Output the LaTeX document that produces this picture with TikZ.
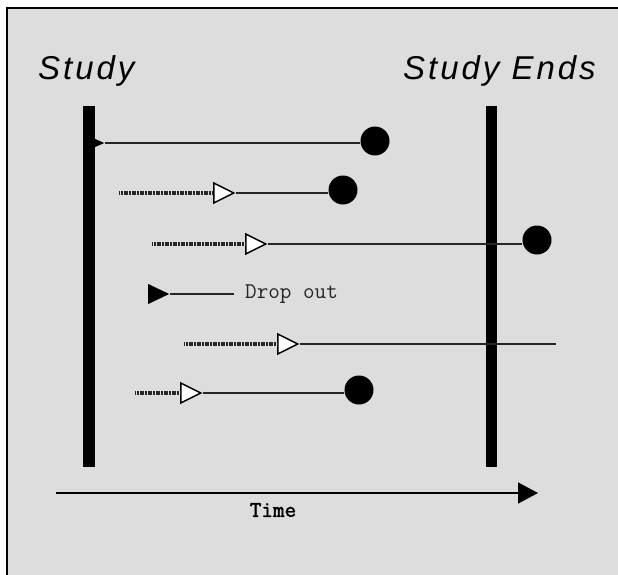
\documentclass[tikz,border=0pt]{standalone}
\usepackage{fontspec}
\newfontfamily\headfont[LetterSpace=9]{Liberation Sans}
\newfontfamily\timefont[FakeBold=2]{Latin Modern Mono}
\usetikzlibrary{arrows.meta,shapes.geometric}
\definecolor{panel}{HTML}{DDDDDD}
\begin{document}
\begin{tikzpicture}[x=1pt,y=-1pt,
		bar/.style={line width=11.5pt},
		wait/.style={line width=3.5pt,dash pattern=on 1.1pt off 0.5pt,draw=black!85},
		follow/.style={line width=1.3pt,draw=black!85},
		event/.style={circle,fill=black,inner sep=0pt,minimum size=29pt},
		entry/.style={isosceles triangle,isosceles triangle stretches,draw,fill=white,line width=1.5pt,inner sep=0pt,minimum width=20pt,minimum height=20pt,anchor=west},
		drop/.style={isosceles triangle,isosceles triangle stretches,fill=black,inner sep=0pt,anchor=west}]
			\useasboundingbox (0,0) rectangle (618,575);
			\fill[white] (0,0) rectangle (618,575);
			\fill[panel] (7,8) rectangle (618,575);
			\draw[line width=1.5pt] (7,575) -- (7,8) -- (618,8);
			\node[anchor=base west,inner sep=0pt,font=\headfont\itshape\fontsize{33}{33}\selectfont] (start) at (38,80) {Study};
			\node[anchor=base west,inner sep=0pt,font=\headfont\itshape\fontsize{33}{33}\selectfont] (ends) at (403,80) {Study Ends};
			\draw[bar] (89,106) -- (89,467);
			\draw[bar] (491.5,106) -- (491.5,467);
			\node[drop,minimum width=8pt,minimum height=9pt] (e1) at (95,143) {};
			\node[event] (d1) at (375,141) {};
			\draw[follow] (e1.east) -- (e1.east -| d1.west);
			\coordinate (s2) at (119,193);
			\node[entry] (e2) at (213,193) {};
			\node[event] (d2) at (343,190) {};
			\draw[wait] (s2) -- (e2.west);
			\draw[follow] (e2.east) -- (e2.east -| d2.west);
			\coordinate (s3) at (152,244);
			\node[entry] (e3) at (245,244) {};
			\node[event] (d3) at (537,240) {};
			\draw[wait] (s3) -- (e3.west);
			\draw[follow] (e3.east) -- (e3.east -| d3.west);
			\node[drop,minimum width=20pt,minimum height=21pt] (q) at (148,294) {};
			\coordinate (qend) at (234,294);
			\draw[follow] (q.east) -- (qend);
			\node[anchor=west,inner sep=0pt,text=black!85,font=\ttfamily\fontsize{22.5}{22.5}\selectfont] (qlabel) at (245,294) {Drop out};
			\coordinate (s5) at (184,344);
			\node[entry] (e5) at (277,344) {};
			\coordinate (c5) at (556,344);
			\draw[wait] (s5) -- (e5.west);
			\draw[follow] (e5.east) -- (c5);
			\coordinate (s6) at (135,393);
			\node[entry] (e6) at (180,393) {};
			\node[event] (d6) at (359,390) {};
			\draw[wait] (s6) -- (e6.west);
			\draw[follow] (e6.east) -- (e6.east -| d6.west);
			\coordinate (t0) at (56,493);
			\coordinate (t1) at (538,493);
			\draw[line width=1.5pt,-{Triangle[length=20pt,width=21pt]}] (t0) -- (t1);
			\node[inner sep=0pt,font=\timefont\fontsize{22.5}{22.5}\selectfont] (time) at (273,510) {Time};
		\end{tikzpicture}
\end{document}
